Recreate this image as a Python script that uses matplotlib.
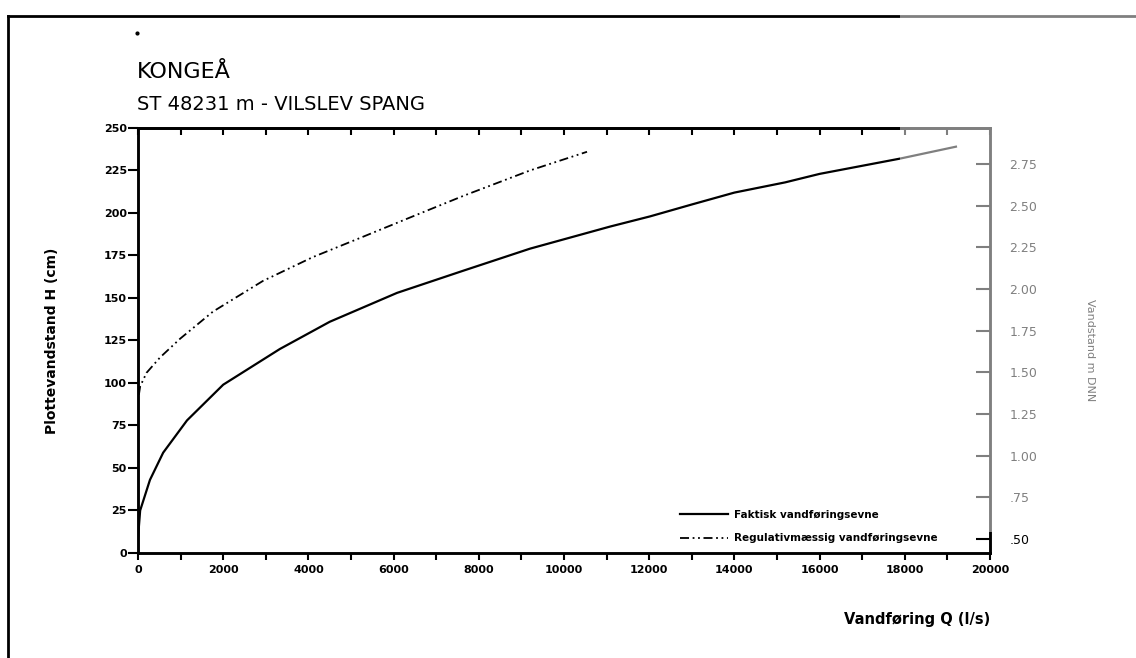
import matplotlib.pyplot as plt
from matplotlib.lines import Line2D
from matplotlib.patches import Rectangle
import numpy as np

# Data
q_faktisk = [0, 50, 280, 590, 1150, 2000, 3330, 4500, 6080, 7630, 9200,
             11080, 12020, 13000, 14000, 15190, 16000, 17890, 19200]
h_faktisk = [9, 25, 43, 59, 78, 99, 120, 136, 153, 166, 179,
             192, 198, 205, 212, 218, 223, 232, 239]

q_regul = [20, 50, 200, 516, 986, 1760, 2930, 4100, 5280, 6450, 7630, 9200, 10540]
h_regul = [93, 98, 106, 115, 126, 142, 160, 174, 186, 198, 210, 225, 236]

x_ticks = list(range(0, 20001, 1000))
x_labels = [str(v) if v % 2000 == 0 else '' for v in x_ticks]
y_ticks = list(range(0, 251, 25))
dnn_ticks = [0.50, 0.75, 1.00, 1.25, 1.50, 1.75, 2.00, 2.25, 2.50, 2.75]
dnn_labels = ['.50', '.75', '1.00', '1.25', '1.50', '1.75', '2.00', '2.25', '2.50', '2.75']

fig = plt.figure(figsize=(11.36, 6.58), dpi=100)
ax = fig.add_axes([0.1215, 0.1596, 0.75, 0.6459])

# curves
ax.plot(q_faktisk, h_faktisk, color='black', lw=1.6, label='Faktisk vandføringsevne')
ax.plot(q_regul, h_regul, color='black', lw=1.3, linestyle=(0, (5, 2, 1, 2, 1, 2)),
        label='Regulativmæssig vandføringsevne')

ax.set_xlim(0, 20000)
ax.set_ylim(0, 250)
ax.set_xticks(x_ticks)
ax.set_xticklabels(x_labels, fontsize=8, fontweight='bold')
ax.set_yticks(y_ticks)
ax.set_yticklabels([str(v) for v in y_ticks], fontsize=8, fontweight='bold')
ax.tick_params(axis='x', direction='out', length=5, width=1.5, pad=4)
ax.tick_params(axis='y', direction='out', length=7, width=1.5, pad=1)
for s in ax.spines.values():
    s.set_linewidth(1.8)

# top ticks pointing inwards
top = ax.secondary_xaxis('top')
top.set_xticks(x_ticks)
top.tick_params(direction='in', length=5, width=1.5, labeltop=False)
top.spines['top'].set_linewidth(1.8)

ax.set_ylabel('Plottevandstand H (cm)', fontsize=10, fontweight='bold', labelpad=32)
ax.set_xlabel('Vandføring Q (l/s)', fontsize=10.5, fontweight='bold', loc='right', labelpad=26)

# right axis in m DNN
ax2 = ax.twinx()
ax2.set_ylim(0.416, 2.967)
ax2.set_yticks(dnn_ticks)
ax2.set_yticklabels(dnn_labels, fontsize=9)
ax2.tick_params(axis='y', direction='in', length=10, width=1.5, pad=14)
for s in ax2.spines.values():
    s.set_linewidth(1.8)

fig.text(1090 / 1136, 1 - 350 / 658, 'Vandstand m DNN', rotation=270,
         fontsize=8, ha='center', va='center')

ax.legend(loc='upper left', bbox_to_anchor=(0.636, 0.102), frameon=False,
          prop={'size': 7.5, 'weight': 'bold'}, handlelength=4.6,
          handletextpad=0.6, labelspacing=1.3, borderpad=0, borderaxespad=0)

# titles
fig.text(137 / 1136, 1 - 72 / 658, 'KONGEÅ', fontsize=16, va='center', ha='left')
fig.text(137 / 1136, 1 - 105 / 658, 'ST 48231 m - VILSLEV SPANG', fontsize=14,
         va='center', ha='left')
fig.add_artist(Line2D([137 / 1136], [1 - 33 / 658], marker='o', markersize=2,
                      color='black', transform=fig.transFigure))

# page border of the scan
fig.add_artist(Line2D([8 / 1136, 1], [1 - 16 / 658, 1 - 16 / 658], color='black', lw=2,
                      transform=fig.transFigure))
fig.add_artist(Line2D([8 / 1136, 8 / 1136], [0, 1 - 16 / 658], color='black', lw=2,
                      transform=fig.transFigure))

# faded right part of the scan
fig.add_artist(Rectangle((900 / 1136, 1 - 532 / 658), 1 - 900 / 1136, (532 - 8) / 658,
                         transform=fig.transFigure, facecolor='white', alpha=0.5,
                         edgecolor='none', zorder=10))

fig.savefig('out.png', dpi=100)
